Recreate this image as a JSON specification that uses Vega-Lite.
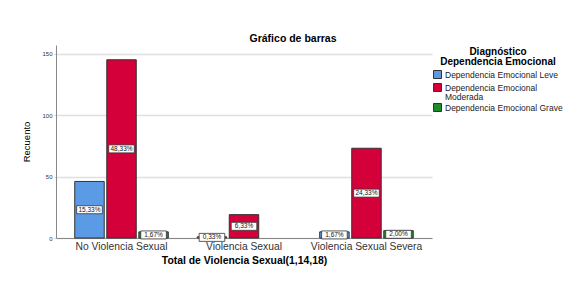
{
  "$schema": "https://vega.github.io/schema/vega-lite/v6.json",
  "autosize": "none",
  "width": 376,
  "height": 193,
  "padding": {"left": 56, "top": 45, "right": 150, "bottom": 44},
  "background": "white",
  "title": {"text": "Gráfico de barras", "fontSize": 10.5, "font": "Liberation Sans", "fontWeight": "bold", "anchor": "middle", "dx": 49, "baseline": "bottom", "offset": -9, "color": "#000"},
  "config": {"view": {"stroke": null}, "font": "Liberation Sans", "style": {"guide-label": {"lineHeight": 9}}},
  "data": {"values": [
    {"grupo": "No Violencia Sexual", "diag": "Dependencia Emocional Leve", "n": 46, "pct": "15,33%"},
    {"grupo": "No Violencia Sexual", "diag": "Dependencia Emocional Moderada", "n": 145, "pct": "48,33%"},
    {"grupo": "No Violencia Sexual", "diag": "Dependencia Emocional Grave", "n": 5, "pct": "1,67%"},
    {"grupo": "Violencia Sexual", "diag": "Dependencia Emocional Leve", "n": 1, "pct": "0,33%"},
    {"grupo": "Violencia Sexual", "diag": "Dependencia Emocional Moderada", "n": 19, "pct": "6,33%"},
    {"grupo": "Violencia Sexual Severa", "diag": "Dependencia Emocional Leve", "n": 5, "pct": "1,67%"},
    {"grupo": "Violencia Sexual Severa", "diag": "Dependencia Emocional Moderada", "n": 73, "pct": "24,33%"},
    {"grupo": "Violencia Sexual Severa", "diag": "Dependencia Emocional Grave", "n": 6, "pct": "2,00%"}
  ]},
  "transform": [{"calculate": "datum.n / 2", "as": "mid"}],
  "encoding": {
    "x": {"field": "grupo", "type": "nominal", "sort": ["No Violencia Sexual", "Violencia Sexual", "Violencia Sexual Severa"],
      "scale": {"paddingInner": 0.236, "paddingOuter": 0.153},
      "axis": {"title": "Total de Violencia Sexual(1,14,18)", "labelAngle": 0, "ticks": false, "labelFontSize": 10.3, "labelColor": "#333", "labelPadding": 3, "domainColor": "#888", "titleFontSize": 10.4, "titleFontWeight": "bold", "titleColor": "#000", "titlePadding": 4}},
    "xOffset": {"field": "diag", "type": "nominal", "sort": ["Dependencia Emocional Leve", "Dependencia Emocional Moderada", "Dependencia Emocional Grave"], "scale": {"domain": ["Dependencia Emocional Leve", "Dependencia Emocional Moderada", "Dependencia Emocional Grave"], "paddingInner": 0.08, "paddingOuter": 0}}
  },
  "layer": [
    {
      "mark": {"type": "bar", "stroke": "#333", "strokeWidth": 1},
      "encoding": {
        "y": {"field": "n", "type": "quantitative", "scale": {"domain": [0, 157], "nice": false},
          "axis": {"title": "Recuento", "values": [0, 50, 100, 150], "labelFontSize": 6, "labelColor": "#333", "tickSize": 2, "tickColor": "#ccc", "labelPadding": 2, "domainColor": "#888", "gridColor": "#e0e0e0", "gridWidth": 1.5, "titleFontSize": 9.5, "titleFontWeight": "normal", "titleColor": "#000", "titlePadding": 10}},
        "color": {"field": "diag", "type": "nominal",
          "scale": {"domain": ["Dependencia Emocional Leve", "Dependencia Emocional Moderada", "Dependencia Emocional Grave"], "range": ["#5b9be6", "#d3003a", "#1e8a2e"]},
          "legend": {"title": ["Diagnóstico", "Dependencia Emocional"], "orient": "none", "legendX": 377, "legendY": 2, "titleFontSize": 10, "titleFontWeight": "bold", "titleColor": "#000", "titleAnchor": "middle", "titleAlign": "center", "titleLineHeight": 10, "titlePadding": 3, "labelFontSize": 8.5, "labelColor": "#222", "labelLimit": 300, "symbolType": "square", "symbolSize": 64, "symbolStrokeColor": "#333", "symbolStrokeWidth": 1, "labelOffset": 3, "rowPadding": 0,
            "labelExpr": "datum.label == 'Dependencia Emocional Moderada' ? ['Dependencia Emocional', 'Moderada'] : datum.label"}
        }
      }
    },
    {
      "mark": {"type": "point", "shape": "M-1.6,-0.5H1.6V0.5H-1.6Z", "filled": true, "fill": "white", "stroke": "#333", "strokeWidth": 0.8, "size": 256, "opacity": 1},
      "encoding": {"y": {"field": "mid", "type": "quantitative"}}
    },
    {
      "mark": {"type": "text", "fontSize": 6.5, "color": "#111", "baseline": "middle", "align": "center"},
      "encoding": {"y": {"field": "mid", "type": "quantitative"}, "text": {"field": "pct"}}
    }
  ]
}
